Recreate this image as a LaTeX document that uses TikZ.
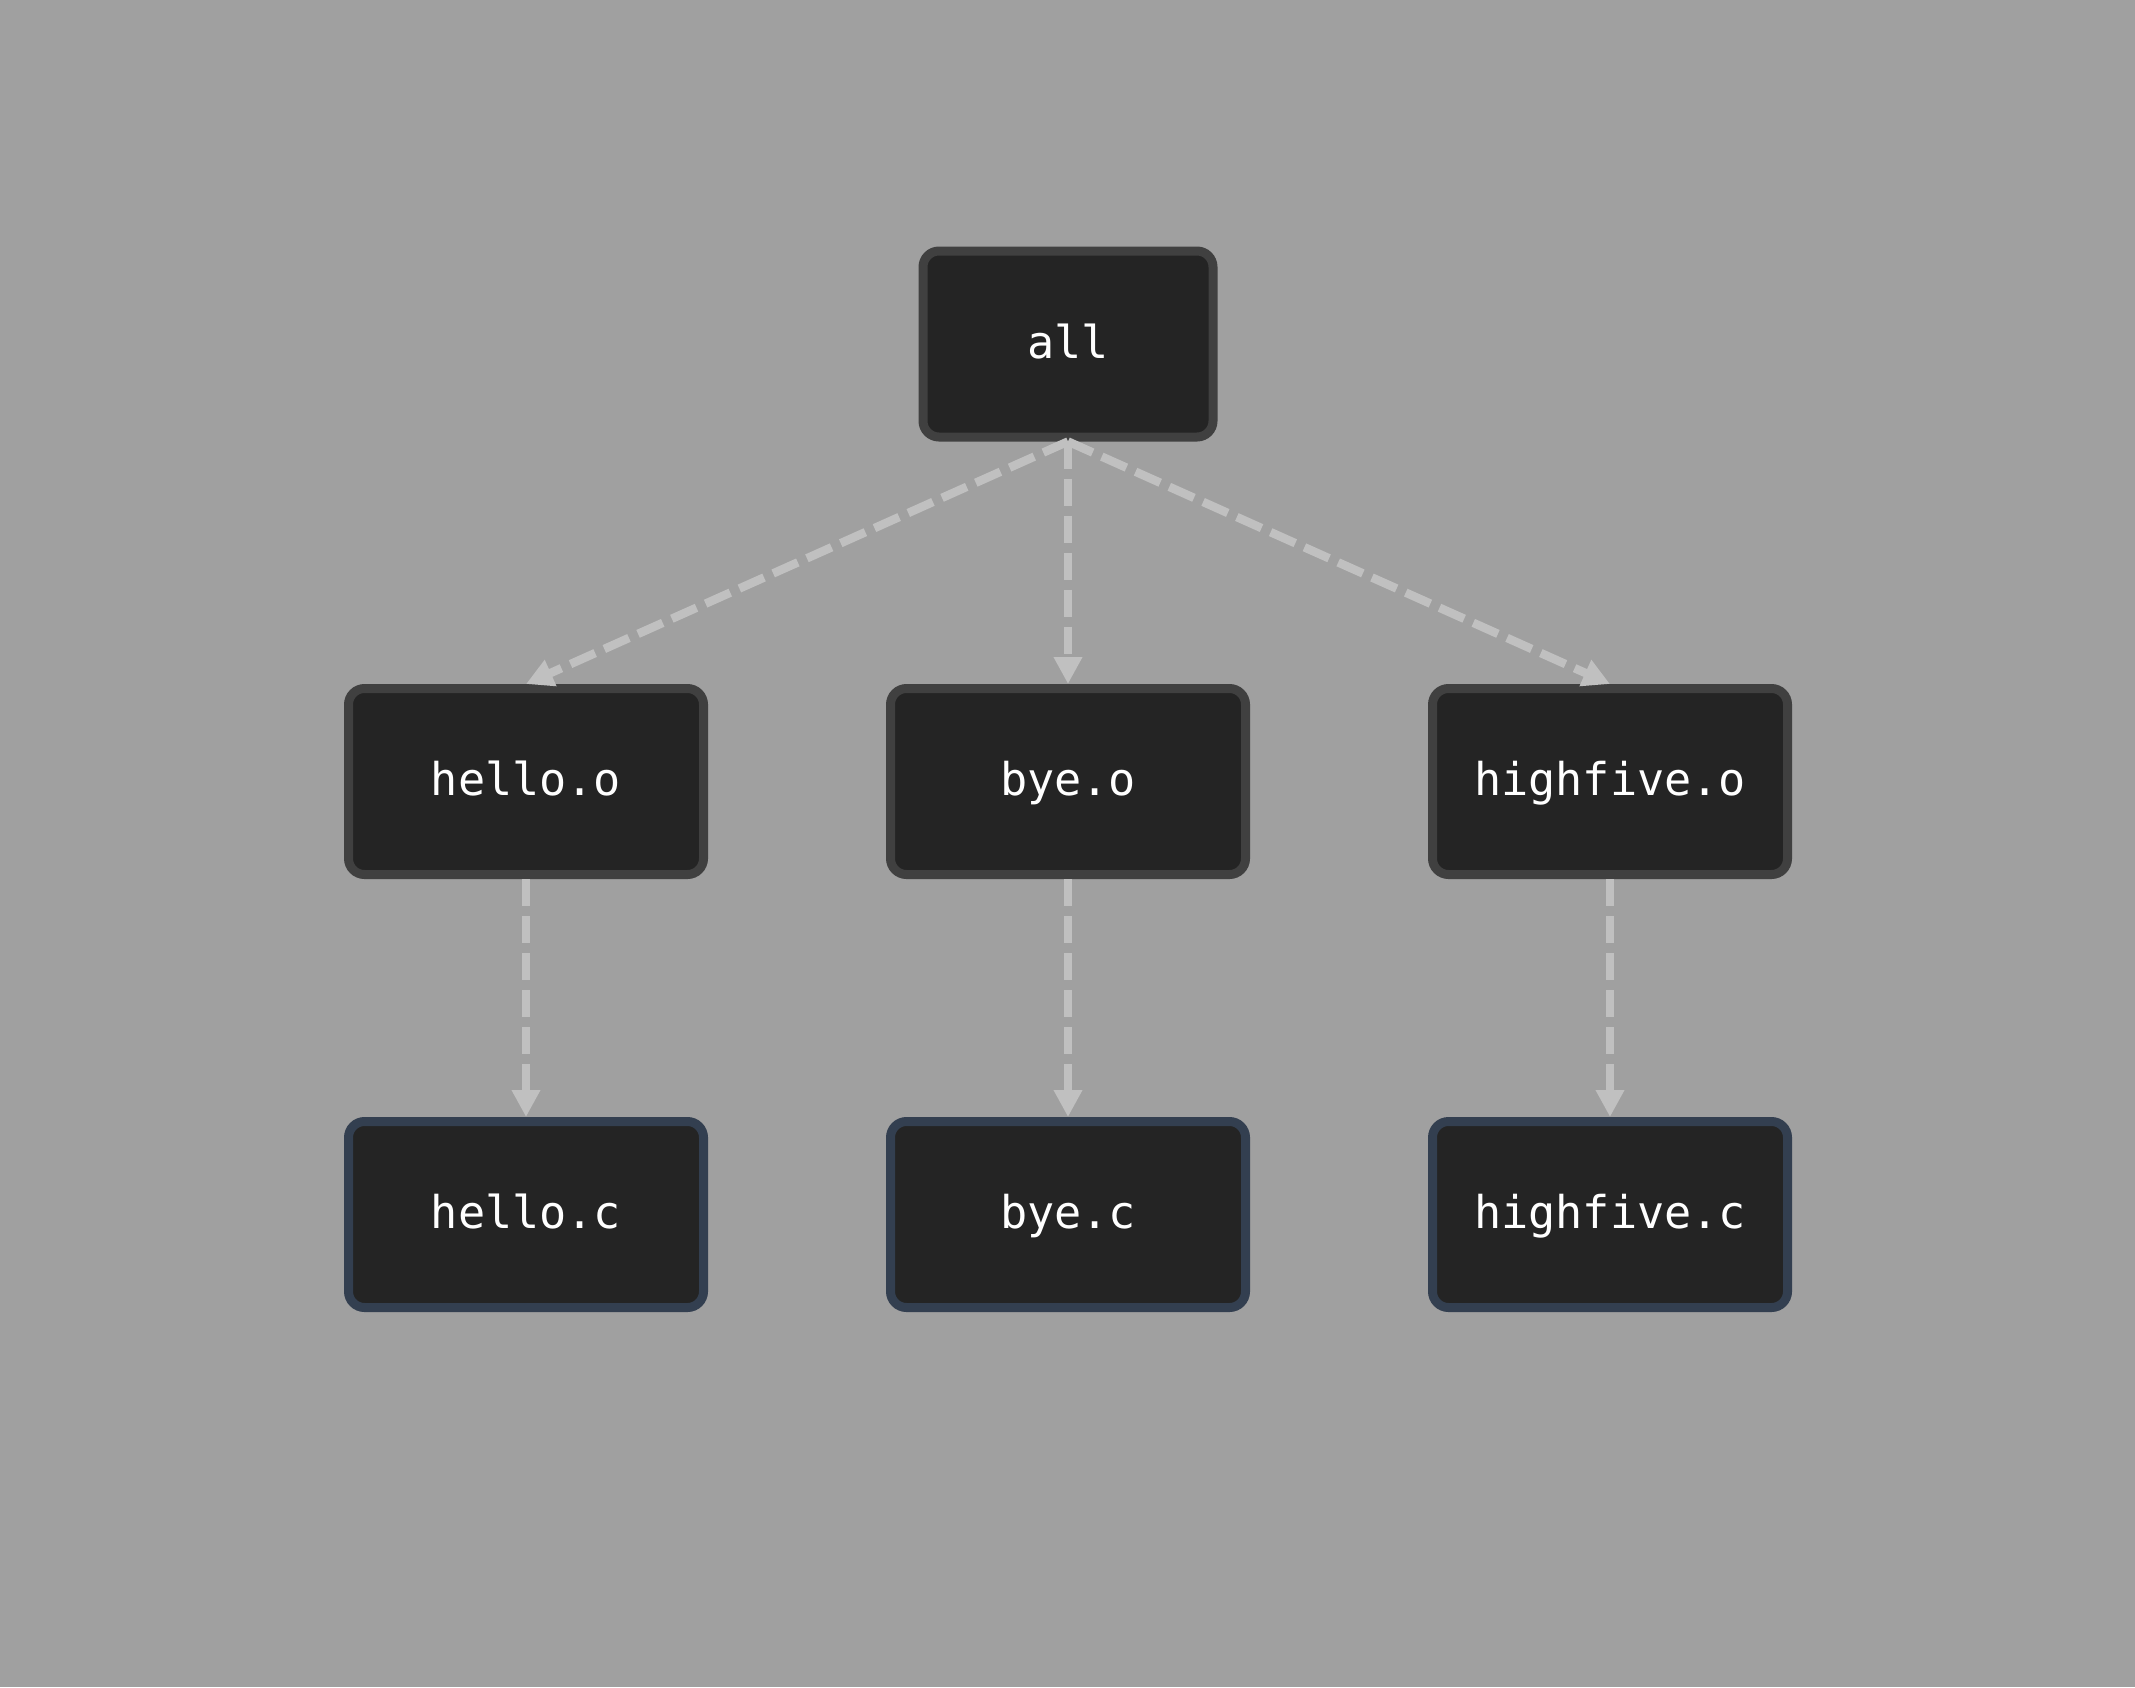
\documentclass[tikz,border=0pt]{standalone}
\usepackage{fontspec}
\setmonofont{DejaVu Sans Mono}
\usetikzlibrary{arrows.meta}
\definecolor{bggray}{HTML}{A0A0A0}
\definecolor{boxfill}{HTML}{242424}
\definecolor{boxline}{HTML}{404040}
\definecolor{srcline}{HTML}{333F50}
\definecolor{edgegray}{HTML}{C0C0C0}

\begin{document}
\begin{tikzpicture}
    [every node/.style={draw=boxline,fill=boxfill,line width=0.18cm,rounded corners=0.32cm,
       minimum width=7.1cm,minimum height=3.72cm,text=white,text height=18pt,text depth=2pt,
       font=\ttfamily\fontsize{25.7}{30}\selectfont},
     src/.style={draw=srcline},
     dep/.style={draw=edgegray,line width=0.17cm,dash pattern=on 0.54cm off 0.2cm,
       -{Triangle[width=0.54cm,length=0.54cm]}}]
    \fill[bggray] (0,0) rectangle (42.7,-33.74);
    \useasboundingbox (0,0) rectangle (42.7,-33.74);
    \node[minimum width=5.8cm] (all) at (21.36,-6.88) {all};
    \node (helloo) at (10.52,-15.63) {hello.o};
    \node (byeo) at (21.36,-15.63) {bye.o};
    \node (highfiveo) at (32.2,-15.63) {highfive.o};
    \node[src] (helloc) at (10.52,-24.29) {hello.c};
    \node[src] (byec) at (21.36,-24.29) {bye.c};
    \node[src] (highfivec) at (32.2,-24.29) {highfive.c};
    \draw[dep] (all.south) -- (helloo.north) ;
    \draw[dep] (all.south) -- (byeo.north) ;
    \draw[dep] (all.south) -- (highfiveo.north) ;
    \draw[dep] (helloo.south) -- (helloc.north) ;
    \draw[dep] (byeo.south) -- (byec.north) ;
    \draw[dep] (highfiveo.south) -- (highfivec.north) ;
  \end{tikzpicture}
\end{document}
